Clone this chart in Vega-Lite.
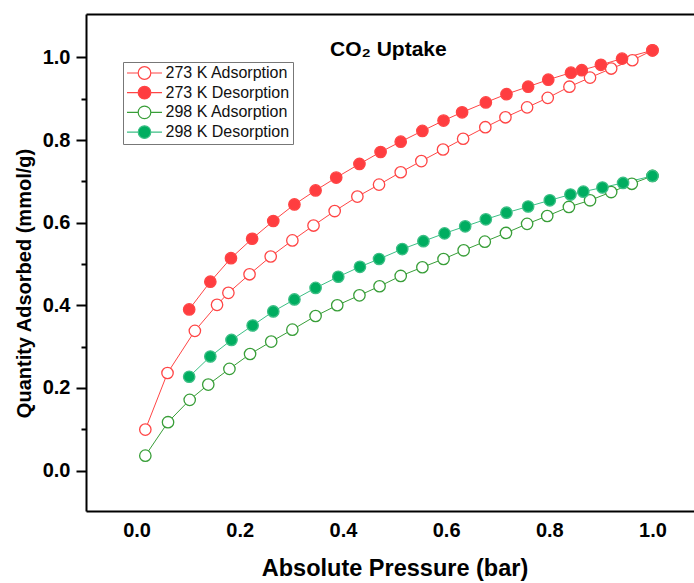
{
  "$schema": "https://vega.github.io/schema/vega-lite/v6.json",
  "width": 608,
  "height": 497,
  "autosize": {"type": "none"},
  "padding": {"left": 86, "top": 14, "right": 0, "bottom": 72},
  "config": {
    "view": {"stroke": null},
    "font": "Liberation Sans",
    "axis": {"grid": false, "domainColor": "black", "tickColor": "black", "labelColor": "black", "titleColor": "black", "domainWidth": 2}
  },
  "datasets": {
    "iso": [
      {"s": "273 K Adsorption", "p": 0.017, "q": 0.099},
      {"s": "273 K Adsorption", "p": 0.060, "q": 0.236},
      {"s": "273 K Adsorption", "p": 0.113, "q": 0.338},
      {"s": "273 K Adsorption", "p": 0.156, "q": 0.401},
      {"s": "273 K Adsorption", "p": 0.178, "q": 0.430},
      {"s": "273 K Adsorption", "p": 0.219, "q": 0.475},
      {"s": "273 K Adsorption", "p": 0.260, "q": 0.518},
      {"s": "273 K Adsorption", "p": 0.302, "q": 0.557},
      {"s": "273 K Adsorption", "p": 0.343, "q": 0.593},
      {"s": "273 K Adsorption", "p": 0.384, "q": 0.628},
      {"s": "273 K Adsorption", "p": 0.428, "q": 0.663},
      {"s": "273 K Adsorption", "p": 0.470, "q": 0.692},
      {"s": "273 K Adsorption", "p": 0.512, "q": 0.722},
      {"s": "273 K Adsorption", "p": 0.552, "q": 0.749},
      {"s": "273 K Adsorption", "p": 0.594, "q": 0.777},
      {"s": "273 K Adsorption", "p": 0.633, "q": 0.803},
      {"s": "273 K Adsorption", "p": 0.676, "q": 0.831},
      {"s": "273 K Adsorption", "p": 0.715, "q": 0.855},
      {"s": "273 K Adsorption", "p": 0.757, "q": 0.879},
      {"s": "273 K Adsorption", "p": 0.797, "q": 0.902},
      {"s": "273 K Adsorption", "p": 0.839, "q": 0.929},
      {"s": "273 K Adsorption", "p": 0.879, "q": 0.951},
      {"s": "273 K Adsorption", "p": 0.920, "q": 0.973},
      {"s": "273 K Adsorption", "p": 0.961, "q": 0.993},
      {"s": "273 K Adsorption", "p": 1.000, "q": 1.017},
      {"s": "273 K Desorption", "p": 0.102, "q": 0.390},
      {"s": "273 K Desorption", "p": 0.143, "q": 0.457},
      {"s": "273 K Desorption", "p": 0.183, "q": 0.514},
      {"s": "273 K Desorption", "p": 0.224, "q": 0.561},
      {"s": "273 K Desorption", "p": 0.265, "q": 0.604},
      {"s": "273 K Desorption", "p": 0.306, "q": 0.644},
      {"s": "273 K Desorption", "p": 0.347, "q": 0.678},
      {"s": "273 K Desorption", "p": 0.387, "q": 0.709},
      {"s": "273 K Desorption", "p": 0.432, "q": 0.742},
      {"s": "273 K Desorption", "p": 0.473, "q": 0.771},
      {"s": "273 K Desorption", "p": 0.512, "q": 0.796},
      {"s": "273 K Desorption", "p": 0.554, "q": 0.822},
      {"s": "273 K Desorption", "p": 0.595, "q": 0.847},
      {"s": "273 K Desorption", "p": 0.631, "q": 0.867},
      {"s": "273 K Desorption", "p": 0.677, "q": 0.891},
      {"s": "273 K Desorption", "p": 0.717, "q": 0.911},
      {"s": "273 K Desorption", "p": 0.759, "q": 0.929},
      {"s": "273 K Desorption", "p": 0.798, "q": 0.946},
      {"s": "273 K Desorption", "p": 0.842, "q": 0.963},
      {"s": "273 K Desorption", "p": 0.863, "q": 0.969},
      {"s": "273 K Desorption", "p": 0.900, "q": 0.982},
      {"s": "273 K Desorption", "p": 0.941, "q": 0.997},
      {"s": "273 K Desorption", "p": 1.000, "q": 1.017},
      {"s": "298 K Adsorption", "p": 0.017, "q": 0.036},
      {"s": "298 K Adsorption", "p": 0.061, "q": 0.117},
      {"s": "298 K Adsorption", "p": 0.103, "q": 0.171},
      {"s": "298 K Adsorption", "p": 0.139, "q": 0.208},
      {"s": "298 K Adsorption", "p": 0.180, "q": 0.246},
      {"s": "298 K Adsorption", "p": 0.220, "q": 0.282},
      {"s": "298 K Adsorption", "p": 0.261, "q": 0.312},
      {"s": "298 K Adsorption", "p": 0.302, "q": 0.341},
      {"s": "298 K Adsorption", "p": 0.347, "q": 0.374},
      {"s": "298 K Adsorption", "p": 0.389, "q": 0.400},
      {"s": "298 K Adsorption", "p": 0.432, "q": 0.424},
      {"s": "298 K Adsorption", "p": 0.471, "q": 0.446},
      {"s": "298 K Adsorption", "p": 0.512, "q": 0.471},
      {"s": "298 K Adsorption", "p": 0.554, "q": 0.492},
      {"s": "298 K Adsorption", "p": 0.595, "q": 0.512},
      {"s": "298 K Adsorption", "p": 0.634, "q": 0.533},
      {"s": "298 K Adsorption", "p": 0.675, "q": 0.554},
      {"s": "298 K Adsorption", "p": 0.716, "q": 0.575},
      {"s": "298 K Adsorption", "p": 0.757, "q": 0.597},
      {"s": "298 K Adsorption", "p": 0.796, "q": 0.616},
      {"s": "298 K Adsorption", "p": 0.838, "q": 0.638},
      {"s": "298 K Adsorption", "p": 0.879, "q": 0.654},
      {"s": "298 K Adsorption", "p": 0.920, "q": 0.674},
      {"s": "298 K Adsorption", "p": 0.960, "q": 0.694},
      {"s": "298 K Adsorption", "p": 1.000, "q": 0.713},
      {"s": "298 K Desorption", "p": 0.102, "q": 0.227},
      {"s": "298 K Desorption", "p": 0.143, "q": 0.276},
      {"s": "298 K Desorption", "p": 0.184, "q": 0.316},
      {"s": "298 K Desorption", "p": 0.225, "q": 0.351},
      {"s": "298 K Desorption", "p": 0.265, "q": 0.385},
      {"s": "298 K Desorption", "p": 0.306, "q": 0.414},
      {"s": "298 K Desorption", "p": 0.347, "q": 0.442},
      {"s": "298 K Desorption", "p": 0.391, "q": 0.469},
      {"s": "298 K Desorption", "p": 0.433, "q": 0.493},
      {"s": "298 K Desorption", "p": 0.470, "q": 0.512},
      {"s": "298 K Desorption", "p": 0.515, "q": 0.536},
      {"s": "298 K Desorption", "p": 0.556, "q": 0.555},
      {"s": "298 K Desorption", "p": 0.597, "q": 0.574},
      {"s": "298 K Desorption", "p": 0.637, "q": 0.591},
      {"s": "298 K Desorption", "p": 0.677, "q": 0.608},
      {"s": "298 K Desorption", "p": 0.717, "q": 0.624},
      {"s": "298 K Desorption", "p": 0.759, "q": 0.639},
      {"s": "298 K Desorption", "p": 0.801, "q": 0.654},
      {"s": "298 K Desorption", "p": 0.841, "q": 0.668},
      {"s": "298 K Desorption", "p": 0.866, "q": 0.675},
      {"s": "298 K Desorption", "p": 0.903, "q": 0.685},
      {"s": "298 K Desorption", "p": 0.943, "q": 0.696},
      {"s": "298 K Desorption", "p": 1.000, "q": 0.713}
    ],
    "heading": [{"label": "CO₂ Uptake"}]
  },
  "resolve": {"axis": {"x": "independent", "y": "independent"}},
  "layer": [
    {
      "data": {"name": "iso"},
      "mark": {"type": "line", "strokeWidth": 1},
      "encoding": {
        "x": {"field": "p", "type": "quantitative",
          "scale": {"domain": [-0.098, 1.0805], "nice": false, "zero": false},
          "axis": {"orient": "bottom", "values": [0, 0.2, 0.4, 0.6, 0.8, 1.0], "format": ".1f", "ticks": false,
            "labelFontSize": 20, "labelFontWeight": "bold", "labelPadding": 9,
            "title": "Absolute Pressure (bar)", "titleFontSize": 23.5, "titleFontWeight": "bold", "titlePadding": 16, "titleX": 308.5}},
        "y": {"field": "q", "type": "quantitative",
          "scale": {"domain": [-0.098, 1.105], "nice": false, "zero": false},
          "axis": {"orient": "left", "values": [0, 0.2, 0.4, 0.6, 0.8, 1.0], "format": ".1f", "tickSize": 10, "tickWidth": 2,
            "labelFontSize": 20, "labelFontWeight": "bold", "labelPadding": 6,
            "title": "Quantity Adsorbed (mmol/g)", "titleFontSize": 20, "titleFontWeight": "bold", "titlePadding": 8, "titleY": 269}},
        "stroke": {"field": "s", "type": "nominal",
          "scale": {"domain": ["273 K Adsorption", "273 K Desorption", "298 K Adsorption", "298 K Desorption"],
            "range": ["#ff4545", "#ff4545", "#389e38", "#3cbf85"]},
          "legend": {"title": null}}
      }
    },
    {
      "data": {"name": "iso"},
      "mark": {"type": "circle", "size": 130, "strokeWidth": 1.3, "opacity": 1},
      "encoding": {
        "x": {"field": "p", "type": "quantitative",
          "axis": {"orient": "top", "ticks": false, "labels": false, "title": null, "domainWidth": 2}},
        "y": {"field": "q", "type": "quantitative",
          "axis": {"orient": "left", "values": [0.1, 0.3, 0.5, 0.7, 0.9], "tickSize": 5, "tickWidth": 2, "labels": false, "domain": false, "title": null}},
        "stroke": {"field": "s", "type": "nominal", "legend": {"title": null}},
        "fill": {"field": "s", "type": "nominal",
          "scale": {"domain": ["273 K Adsorption", "273 K Desorption", "298 K Adsorption", "298 K Desorption"],
            "range": ["#ffffff", "#ff3d40", "#ffffff", "#00ad60"]},
          "legend": {
            "title": null, "orient": "none", "legendX": 37, "legendY": 48,
            "symbolType": "M-2.5,0H-0.9M0.9,0H2.5M0.9,0A0.9,0.9 0 1 1 -0.9,0A0.9,0.9 0 1 1 0.9,0Z",
            "symbolSize": 196, "symbolStrokeWidth": 1.2, "symbolOffset": 10.5, "labelOffset": 13,
            "labelFontSize": 16, "labelColor": "#111111", "rowPadding": 1.7, "padding": 3,
            "strokeColor": "#777777", "fillColor": "#ffffff"}}
      }
    },
    {
      "data": {"name": "heading"},
      "mark": {"type": "text", "fontSize": 21, "fontWeight": "bold", "baseline": "alphabetic", "align": "center", "color": "black"},
      "encoding": {
        "x": {"datum": 0.488, "type": "quantitative", "axis": null},
        "y": {"datum": 1.003, "type": "quantitative", "axis": null},
        "text": {"field": "label", "type": "nominal"}
      }
    }
  ]
}
